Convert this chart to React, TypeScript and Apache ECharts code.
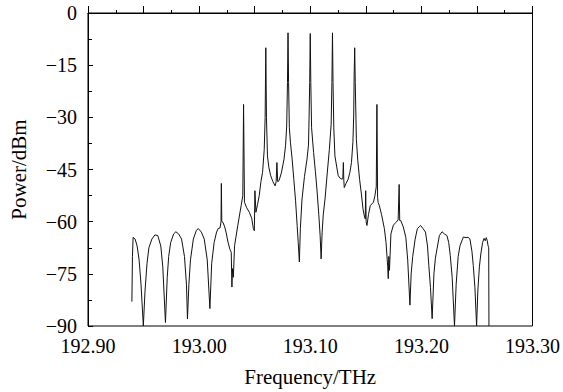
import React, { useEffect, useRef } from "react";
import * as echarts from "echarts";

// Frequency (THz) and power (dBm) of the measured optical spectrum
const freqTHz: number[] = [
  192.9395, 192.94, 192.9406, 192.9424, 192.9442, 192.946, 192.9477, 192.9498, 192.9513, 192.9531,
  192.9548, 192.9575, 192.9602, 192.9628, 192.9655, 192.9673, 192.9697, 192.9713, 192.9726, 192.9744,
  192.9771, 192.9791, 192.9815, 192.9842, 192.9868, 192.9886, 192.9895, 192.9908, 192.9922, 192.9948,
  192.9975, 192.9993, 193.002, 193.0046, 193.0073, 193.0097, 193.0113, 193.0135, 193.0157, 193.0171,
  193.0188, 193.0197, 193.02, 193.0204, 193.0215, 193.023, 193.0242, 193.026, 193.0277, 193.0289,
  193.0295, 193.03, 193.0308, 193.0319, 193.0348, 193.0378, 193.0393, 193.04, 193.0408, 193.0428,
  193.0452, 193.0473, 193.0488, 193.0497, 193.0502, 193.0511, 193.0526, 193.0541, 193.0556, 193.0571,
  193.0586, 193.0594, 193.06, 193.0606, 193.0615, 193.0628, 193.0644, 193.0664, 193.0684, 193.0693,
  193.07, 193.0707, 193.0719, 193.074, 193.0764, 193.0778, 193.0788, 193.0795, 193.08, 193.0805,
  193.0812, 193.0822, 193.0837, 193.0852, 193.0868, 193.0882, 193.0892, 193.0902, 193.0911, 193.0926,
  193.0948, 193.0971, 193.0984, 193.0988, 193.0995, 193.1, 193.1005, 193.1012, 193.103, 193.1046,
  193.106, 193.1077, 193.1089, 193.1098, 193.1107, 193.1117, 193.1133, 193.1153, 193.1172, 193.1188,
  193.1195, 193.12, 193.1205, 193.1212, 193.1222, 193.1237, 193.1252, 193.1268, 193.1288, 193.1293,
  193.1298, 193.1302, 193.1306, 193.1322, 193.1341, 193.1357, 193.1371, 193.1384, 193.1391, 193.1395,
  193.14, 193.1405, 193.1415, 193.1428, 193.1444, 193.146, 193.1475, 193.1489, 193.1495, 193.1499,
  193.1503, 193.151, 193.1524, 193.154, 193.1569, 193.1582, 193.1594, 193.16, 193.1606, 193.1611,
  193.1622, 193.1642, 193.1667, 193.1682, 193.1697, 193.1702, 193.1707, 193.1713, 193.1726, 193.1748,
  193.1771, 193.1791, 193.18, 193.1805, 193.1815, 193.1837, 193.186, 193.1877, 193.1897, 193.1908,
  193.1922, 193.1944, 193.1964, 193.198, 193.1993, 193.2015, 193.2037, 193.2055, 193.2067, 193.2082,
  193.2097, 193.2113, 193.2126, 193.2141, 193.2162, 193.2186, 193.2206, 193.223, 193.2246, 193.226,
  193.2277, 193.2298, 193.2313, 193.2331, 193.2348, 193.2378, 193.2402, 193.242, 193.2437, 193.2455,
  193.2467, 193.2482, 193.2497, 193.2508, 193.2522, 193.2535, 193.2551, 193.2564, 193.2575, 193.2584,
  193.2593, 193.26, 193.2606, 193.2608,
];

const powerDBm: number[] = [
  -83, -70, -64.5, -65, -67, -71, -78, -90, -80, -72,
  -67.5, -65, -63.8, -64, -67, -73, -89, -76, -70, -66,
  -63.5, -62.9, -63.5, -65, -70, -78, -88, -78, -71, -65,
  -62.5, -62, -63, -65, -71, -85, -72, -66, -63, -62,
  -61.8, -60, -49, -60, -60.2, -61.5, -63, -65.9, -68, -68.8,
  -78.8, -73.5, -76, -66.9, -61.1, -55.4, -52.5, -26.3, -54.4, -56,
  -57.3, -59, -62, -62.6, -51.1, -57.3, -55, -52.5, -48.5, -45.8,
  -39.2, -30, -10, -30, -41.1, -44.5, -46.8, -48.5, -49.7, -48.5,
  -43, -48.5, -48.2, -46, -42, -38, -32.5, -20, -5.7, -20,
  -33, -37.3, -42, -47.8, -54, -61.1, -66, -71.6, -62, -53.5,
  -47, -42, -38, -32.5, -20, -5.9, -20, -33, -40.1, -45.5,
  -50.6, -58, -64, -70.7, -63, -58, -53.5, -46, -39.2, -32,
  -20, -5.7, -20, -33, -41.1, -44, -46.8, -47.5, -47.8, -47.5,
  -43, -48, -50.2, -49, -47.8, -45.8, -43, -37, -29.6, -18,
  -10, -20, -36.3, -42.5, -47.8, -52, -56.4, -58.7, -59.2, -51.1,
  -60, -61.1, -58, -55.4, -54.4, -52.5, -50, -26.3, -53, -54.5,
  -55.4, -58, -62, -66, -73, -76.4, -70, -74, -63.5, -61,
  -60.2, -59.5, -49.3, -59.7, -59.7, -61.5, -64.5, -71, -84, -75,
  -70, -65, -62, -61.5, -61.1, -62, -63, -67, -72.6, -79,
  -87.9, -75, -70.5, -67.8, -64, -62.9, -63.5, -64, -66, -69.7,
  -76, -90, -78, -70, -66.9, -64.4, -64.6, -64.5, -65, -68.5,
  -72.6, -79, -90, -80, -73, -69.3, -66, -64.8, -65.5, -64.6,
  -65.5, -66.9, -67.5, -90,
];

const xMin = 192.9;
const xMax = 193.3;
const xStep = 0.05;
const yMin = -90;
const yMax = 0;
const yStep = 15;

const FONT = "'Liberation Serif', 'Times New Roman', serif";

export default function App() {
  const ref = useRef<HTMLDivElement>(null);

  useEffect(() => {
    if (!ref.current) return;
    const chart = echarts.init(ref.current, null, { renderer: "svg" });
    const data = freqTHz.map((f, i) => [f, powerDBm[i]]);
    chart.setOption({
      animation: false,
      backgroundColor: "#fff",
      grid: {
        left: 88,
        right: 25,
        top: 13,
        bottom: 65,
        show: true,
        borderColor: "#000",
        borderWidth: 1,
      },
      xAxis: {
        type: "value",
        min: xMin,
        max: xMax,
        interval: xStep,
        name: "Frequency/THz",
        nameLocation: "middle",
        nameGap: 40,
        nameTextStyle: { fontFamily: FONT, fontSize: 21, color: "#000" },
        axisLine: { show: true, lineStyle: { color: "#000", width: 1 } },
        axisTick: { show: true, inside: true, length: 7, lineStyle: { color: "#000" } },
        minorTick: { show: true, splitNumber: 2, length: 3, lineStyle: { color: "#000" } },
        splitLine: { show: false },
        axisLabel: {
          fontFamily: FONT,
          fontSize: 20,
          color: "#000",
          margin: 10,
          showMinLabel: true,
          showMaxLabel: true,
          formatter: (v: number) => {
            const k = Math.round(v * 100);
            return k % 10 === 0 ? v.toFixed(2) : "";
          },
        },
      },
      yAxis: {
        type: "value",
        min: yMin,
        max: yMax,
        interval: yStep,
        name: "Power/dBm",
        nameLocation: "middle",
        nameGap: 59,
        nameTextStyle: { fontFamily: FONT, fontSize: 21, color: "#000" },
        axisLine: { show: true, lineStyle: { color: "#000", width: 1 } },
        axisTick: { show: true, inside: true, length: 5, lineStyle: { color: "#000" } },
        minorTick: { show: true, splitNumber: 2, length: 4, lineStyle: { color: "#000" } },
        splitLine: { show: false },
        axisLabel: {
          fontFamily: FONT,
          fontSize: 20,
          color: "#000",
          margin: 11,
          formatter: (v: number) => (v < 0 ? "\u2212" + Math.abs(v) : String(v)),
        },
      },
      series: [
        {
          type: "line",
          data,
          showSymbol: false,
          symbol: "none",
          lineStyle: { color: "#111", width: 1 },
          clip: true,
        },
      ],
    });
    return () => chart.dispose();
  }, []);

  return (
    <div
      ref={ref}
      style={{ position: "fixed", left: 0, top: 0, width: 563, height: 392, background: "#fff" }}
    />
  );
}
